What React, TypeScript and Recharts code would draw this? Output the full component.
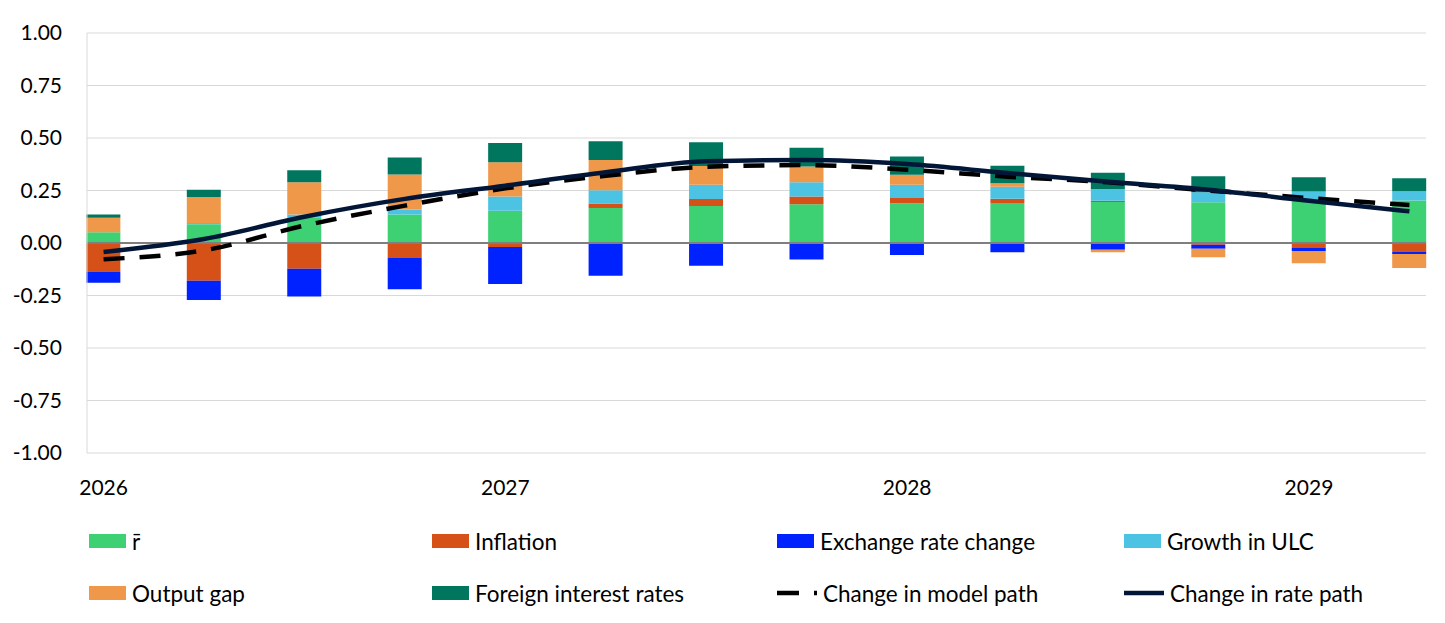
import {
  Bar,
  CartesianGrid,
  ComposedChart,
  Line,
  ReferenceLine,
  XAxis,
  YAxis,
} from "recharts";

// quarterly decomposition of the change in the policy rate path
const quarters = [
  "2026Q1", "2026Q2", "2026Q3", "2026Q4",
  "2027Q1", "2027Q2", "2027Q3", "2027Q4",
  "2028Q1", "2028Q2", "2028Q3", "2028Q4",
  "2029Q1", "2029Q2",
];
const rBar = [0.051, 0.089, 0.12, 0.136, 0.154, 0.167, 0.176, 0.184, 0.189, 0.19, 0.195, 0.194, 0.202, 0.202];
const inflation = [-0.136, -0.18, -0.123, -0.072, -0.019, 0.021, 0.033, 0.037, 0.025, 0.021, 0.006, -0.008, -0.024, -0.041];
const exchangeRate = [-0.053, -0.092, -0.132, -0.148, -0.176, -0.156, -0.108, -0.079, -0.057, -0.044, -0.032, -0.019, -0.014, -0.011];
const ulcGrowth = [0, 0.006, 0.016, 0.024, 0.068, 0.063, 0.068, 0.068, 0.063, 0.057, 0.056, 0.048, 0.043, 0.044];
const outputGap = [0.069, 0.124, 0.153, 0.166, 0.162, 0.144, 0.09, 0.075, 0.048, 0.017, -0.012, -0.041, -0.059, -0.067];
const foreignRates = [0.016, 0.035, 0.057, 0.081, 0.092, 0.09, 0.113, 0.089, 0.087, 0.083, 0.078, 0.076, 0.068, 0.062];
const modelPath = [-0.077, -0.035, 0.083, 0.178, 0.26, 0.32, 0.363, 0.371, 0.349, 0.316, 0.289, 0.25, 0.214, 0.181];
const ratePath = [-0.043, 0.019, 0.125, 0.21, 0.273, 0.337, 0.389, 0.395, 0.376, 0.333, 0.292, 0.254, 0.201, 0.151];

const yTicks = [-1, -0.75, -0.5, -0.25, 0, 0.25, 0.5, 0.75, 1];
const xTicks = [0, 4, 8, 12];

const GREEN = "#3DD174";
const RED = "#D65118";
const BLUE = "#0022FF";
const LIGHT_BLUE = "#4DC3E3";
const ORANGE = "#F0984A";
const TEAL = "#01765F";
const NAVY = "#021638";
const FONT = "Lato, 'Open Sans', sans-serif";
const DASH = "21 15";

const data = quarters.map((q, i) => ({
  idx: i,
  q,
  rBar: rBar[i],
  inflation: inflation[i],
  exchangeRate: exchangeRate[i],
  ulcGrowth: ulcGrowth[i],
  outputGap: outputGap[i],
  foreignRates: foreignRates[i],
  modelPath: modelPath[i],
  ratePath: ratePath[i],
}));

type LegendItem = { label: string; color: string; kind: "box" | "dash" | "line" };

const legendRows: LegendItem[][] = [
  [
    { label: "r\u0304", color: GREEN, kind: "box" },
    { label: "Inflation", color: RED, kind: "box" },
    { label: "Exchange rate change", color: BLUE, kind: "box" },
    { label: "Growth in ULC", color: LIGHT_BLUE, kind: "box" },
  ],
  [
    { label: "Output gap", color: ORANGE, kind: "box" },
    { label: "Foreign interest rates", color: TEAL, kind: "box" },
    { label: "Change in model path", color: "#000", kind: "dash" },
    { label: "Change in rate path", color: NAVY, kind: "line" },
  ],
];
const legendCols = [89, 432, 777, 1124];
const legendRowY = [541, 593];

function Swatch({ item }: { item: LegendItem }) {
  if (item.kind === "box") {
    return <span style={{ display: "inline-block", width: 37, height: 14, background: item.color }} />;
  }
  return (
    <svg width={40} height={14} style={{ display: "block" }}>
      <line
        x1={0}
        x2={40}
        y1={7}
        y2={7}
        stroke={item.color}
        strokeWidth={4.5}
        strokeDasharray={item.kind === "dash" ? "22 15" : undefined}
      />
    </svg>
  );
}

export default function App() {
  return (
    <div
      style={{
        position: "fixed",
        left: 0,
        top: 0,
        width: 1445,
        height: 623,
        background: "#fff",
        fontFamily: FONT,
      }}
    >
      <ComposedChart
        width={1445}
        height={500}
        data={data}
        stackOffset="sign"
        margin={{ top: 33, right: 19, left: 0, bottom: 0 }}
      >
        <CartesianGrid stroke="#D9D9D9" vertical={false} />
        <XAxis
          type="number"
          dataKey="idx"
          domain={[-0.165, 13.165]}
          ticks={xTicks}
          tickFormatter={(v) => quarters[v].slice(0, 4)}
          axisLine={false}
          tickLine={false}
          tickSize={0}
          tickMargin={27}
          height={47}
          tick={{ fontSize: 21, fill: "#000", fontFamily: FONT }}
        />
        <YAxis
          domain={[-1, 1]}
          ticks={yTicks}
          tickFormatter={(v) => Number(v).toFixed(2)}
          axisLine={{ stroke: "#D9D9D9" }}
          tickLine={false}
          tickSize={0}
          tickMargin={25}
          width={87}
          tick={{ fontSize: 21, fill: "#000", fontFamily: FONT }}
        />
        <ReferenceLine y={0} stroke="#7F7F7F" strokeWidth={2} />
        <Bar dataKey="rBar" stackId="c" fill={GREEN} barSize={34} isAnimationActive={false} />
        <Bar dataKey="inflation" stackId="c" fill={RED} barSize={34} isAnimationActive={false} />
        <Bar dataKey="exchangeRate" stackId="c" fill={BLUE} barSize={34} isAnimationActive={false} />
        <Bar dataKey="ulcGrowth" stackId="c" fill={LIGHT_BLUE} barSize={34} isAnimationActive={false} />
        <Bar dataKey="outputGap" stackId="c" fill={ORANGE} barSize={34} isAnimationActive={false} />
        <Bar dataKey="foreignRates" stackId="c" fill={TEAL} barSize={34} isAnimationActive={false} />
        <Line
          dataKey="modelPath"
          type="monotone"
          stroke="#000"
          strokeWidth={4.5}
          strokeDasharray={DASH}
          dot={false}
          isAnimationActive={false}
        />
        <Line
          dataKey="ratePath"
          type="monotone"
          stroke={NAVY}
          strokeWidth={4.5}
          dot={false}
          isAnimationActive={false}
        />
      </ComposedChart>
      {legendRows.map((row, r) =>
        row.map((item, c) => (
          <div
            key={`${r}-${c}`}
            style={{
              position: "absolute",
              left: legendCols[c],
              top: legendRowY[r] - 15,
              height: 30,
              display: "flex",
              alignItems: "center",
              gap: 6,
              fontSize: 22.5,
              color: "#000",
              whiteSpace: "nowrap",
            }}
          >
            <Swatch item={item} />
            <span>{item.label}</span>
          </div>
        ))
      )}
    </div>
  );
}
